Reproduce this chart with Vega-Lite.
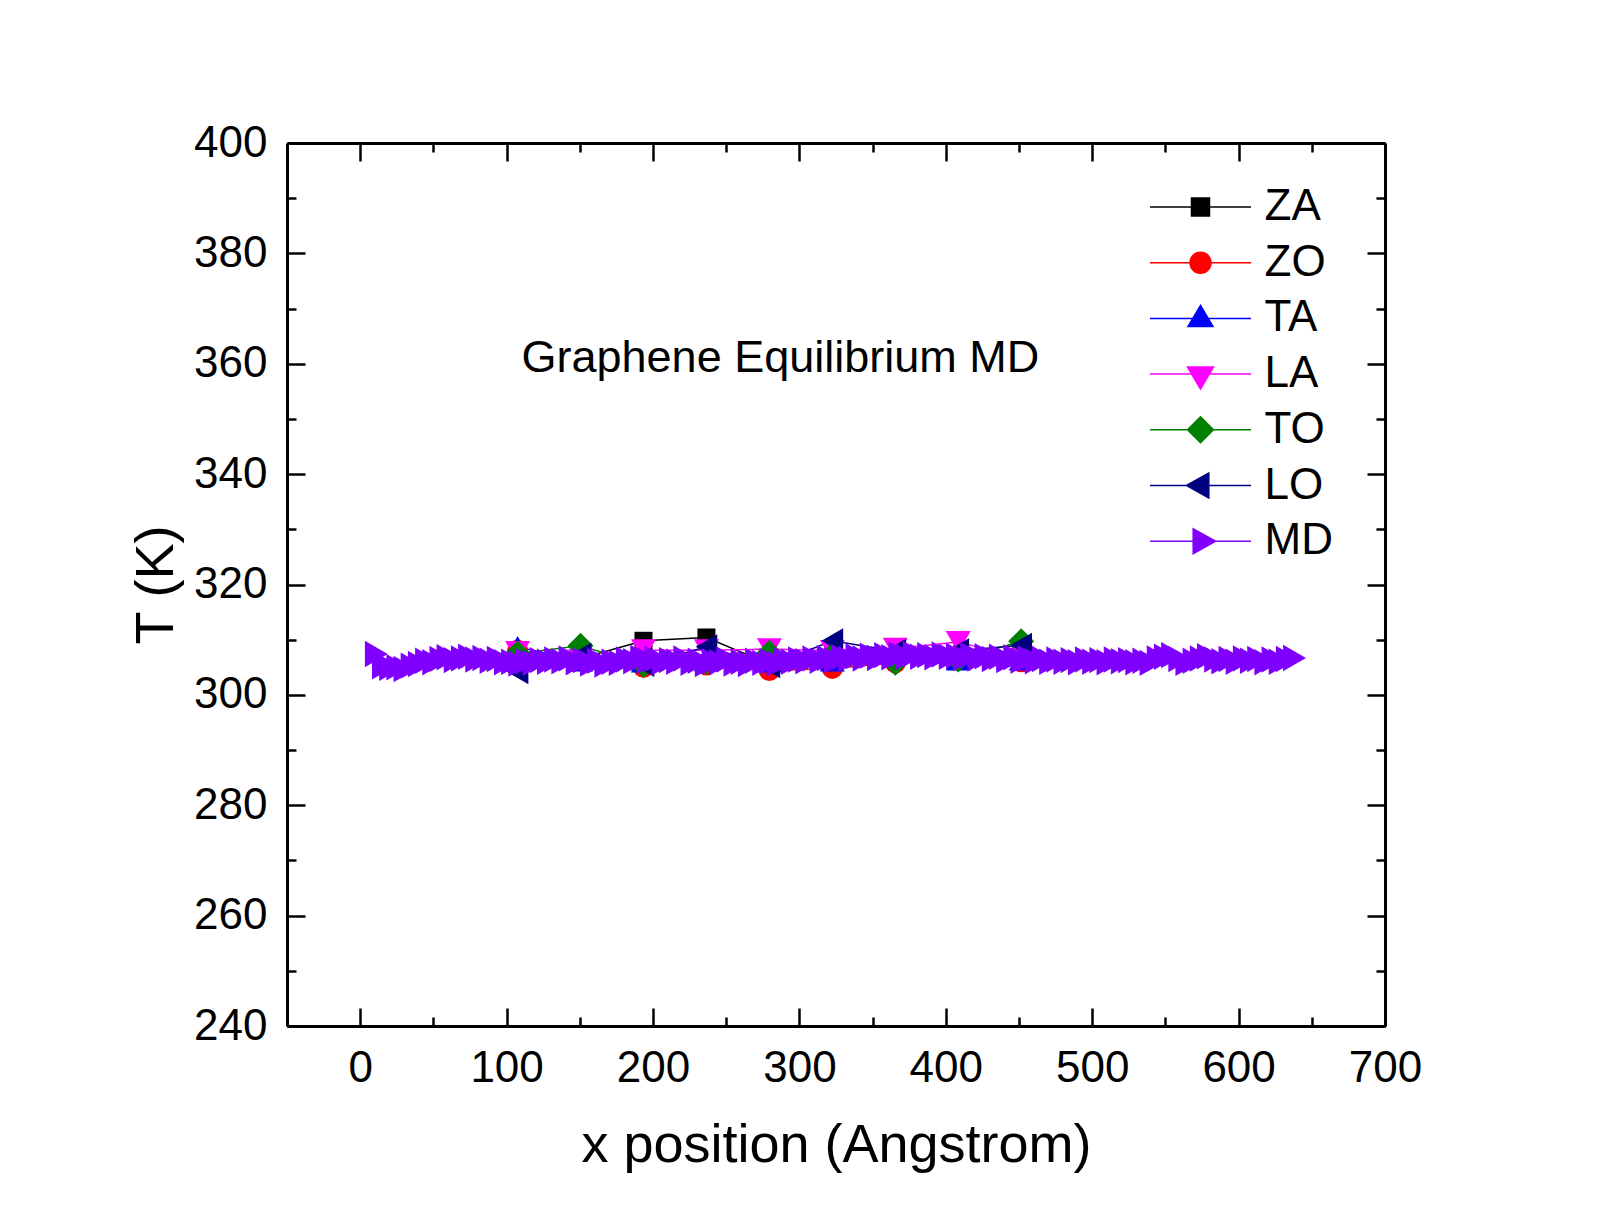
{
  "$schema": "https://vega.github.io/schema/vega-lite/v6.json",
  "width": 1098,
  "height": 883,
  "autosize": {"type": "none"},
  "padding": {"left": 287, "top": 143, "right": 224, "bottom": 206},
  "background": "white",
  "config": {
    "view": {"stroke": null},
    "font": "Liberation Sans",
    "axis": {
      "grid": false,
      "domainColor": "black",
      "domainWidth": 3,
      "tickColor": "black",
      "tickWidth": 2.5,
      "labelFont": "Liberation Sans",
      "labelFontSize": 44,
      "labelColor": "black",
      "labelFlush": false,
      "labelOverlap": false,
      "labelBound": false,
      "titleFont": "Liberation Sans",
      "titleFontSize": 54,
      "titleFontWeight": "normal",
      "titleColor": "black"
    },
    "legend": {"labelFont": "Liberation Sans", "labelFontSize": 44, "labelColor": "black", "labelLimit": 400, "padding": 0}
  },
  "datasets": {
    "temps": [
      {"series": "ZA", "x": 107.5, "T": 306.0}, {"series": "ZA", "x": 150.5, "T": 306.6}, {"series": "ZA", "x": 193.5, "T": 309.8},
      {"series": "ZA", "x": 236.5, "T": 310.4}, {"series": "ZA", "x": 279.5, "T": 305.6}, {"series": "ZA", "x": 322.5, "T": 306.2},
      {"series": "ZA", "x": 365.5, "T": 306.8}, {"series": "ZA", "x": 408.5, "T": 307.0}, {"series": "ZA", "x": 451.5, "T": 307.0},
      {"series": "ZO", "x": 107.5, "T": 308.1}, {"series": "ZO", "x": 150.5, "T": 306.2}, {"series": "ZO", "x": 193.5, "T": 305.0},
      {"series": "ZO", "x": 236.5, "T": 305.4}, {"series": "ZO", "x": 279.5, "T": 304.4}, {"series": "ZO", "x": 322.5, "T": 304.8},
      {"series": "ZO", "x": 365.5, "T": 305.8}, {"series": "ZO", "x": 408.5, "T": 306.3}, {"series": "ZO", "x": 451.5, "T": 306.0},
      {"series": "TA", "x": 107.5, "T": 308.7}, {"series": "TA", "x": 150.5, "T": 306.2}, {"series": "TA", "x": 193.5, "T": 306.0},
      {"series": "TA", "x": 236.5, "T": 306.2}, {"series": "TA", "x": 279.5, "T": 306.0}, {"series": "TA", "x": 322.5, "T": 306.2},
      {"series": "TA", "x": 365.5, "T": 307.9}, {"series": "TA", "x": 408.5, "T": 306.4}, {"series": "TA", "x": 451.5, "T": 306.4},
      {"series": "LA", "x": 107.5, "T": 307.8}, {"series": "LA", "x": 150.5, "T": 306.4}, {"series": "LA", "x": 193.5, "T": 308.1},
      {"series": "LA", "x": 236.5, "T": 308.1}, {"series": "LA", "x": 279.5, "T": 308.3}, {"series": "LA", "x": 322.5, "T": 308.0},
      {"series": "LA", "x": 365.5, "T": 308.4}, {"series": "LA", "x": 408.5, "T": 309.6}, {"series": "LA", "x": 451.5, "T": 306.6},
      {"series": "TO", "x": 107.5, "T": 307.5}, {"series": "TO", "x": 150.5, "T": 308.9}, {"series": "TO", "x": 193.5, "T": 305.4},
      {"series": "TO", "x": 236.5, "T": 306.0}, {"series": "TO", "x": 279.5, "T": 307.6}, {"series": "TO", "x": 322.5, "T": 307.2},
      {"series": "TO", "x": 365.5, "T": 305.8}, {"series": "TO", "x": 408.5, "T": 306.4}, {"series": "TO", "x": 451.5, "T": 309.7},
      {"series": "LO", "x": 107.5, "T": 304.2}, {"series": "LO", "x": 150.5, "T": 307.2}, {"series": "LO", "x": 193.5, "T": 305.5},
      {"series": "LO", "x": 236.5, "T": 308.7}, {"series": "LO", "x": 279.5, "T": 305.3}, {"series": "LO", "x": 322.5, "T": 309.8},
      {"series": "LO", "x": 365.5, "T": 307.9}, {"series": "LO", "x": 408.5, "T": 308.0}, {"series": "LO", "x": 451.5, "T": 309.0},
      {"series": "MD", "x": 11.0, "T": 307.4}, {"series": "MD", "x": 15.9, "T": 305.2}, {"series": "MD", "x": 20.8, "T": 304.9},
      {"series": "MD", "x": 25.7, "T": 305.0}, {"series": "MD", "x": 30.6, "T": 304.7}, {"series": "MD", "x": 35.5, "T": 305.3},
      {"series": "MD", "x": 40.4, "T": 305.6}, {"series": "MD", "x": 45.3, "T": 306.2}, {"series": "MD", "x": 50.2, "T": 305.9},
      {"series": "MD", "x": 55.1, "T": 306.5}, {"series": "MD", "x": 60.0, "T": 306.8}, {"series": "MD", "x": 64.9, "T": 306.3},
      {"series": "MD", "x": 69.8, "T": 306.6}, {"series": "MD", "x": 74.7, "T": 306.9}, {"series": "MD", "x": 79.6, "T": 306.4},
      {"series": "MD", "x": 84.5, "T": 306.7}, {"series": "MD", "x": 89.4, "T": 306.2}, {"series": "MD", "x": 94.3, "T": 306.5},
      {"series": "MD", "x": 99.2, "T": 305.9}, {"series": "MD", "x": 104.1, "T": 306.0}, {"series": "MD", "x": 109.0, "T": 305.7},
      {"series": "MD", "x": 113.9, "T": 306.1}, {"series": "MD", "x": 118.8, "T": 305.8}, {"series": "MD", "x": 123.7, "T": 306.3},
      {"series": "MD", "x": 128.6, "T": 306.0}, {"series": "MD", "x": 133.5, "T": 306.4}, {"series": "MD", "x": 138.4, "T": 306.1},
      {"series": "MD", "x": 143.3, "T": 306.6}, {"series": "MD", "x": 148.2, "T": 305.9}, {"series": "MD", "x": 153.1, "T": 306.3},
      {"series": "MD", "x": 158.0, "T": 305.7}, {"series": "MD", "x": 162.9, "T": 306.2}, {"series": "MD", "x": 167.8, "T": 305.5},
      {"series": "MD", "x": 172.7, "T": 306.0}, {"series": "MD", "x": 177.6, "T": 305.8}, {"series": "MD", "x": 182.5, "T": 306.4},
      {"series": "MD", "x": 187.4, "T": 306.1}, {"series": "MD", "x": 192.3, "T": 306.7}, {"series": "MD", "x": 197.2, "T": 306.2},
      {"series": "MD", "x": 202.1, "T": 306.5}, {"series": "MD", "x": 207.0, "T": 305.9}, {"series": "MD", "x": 211.9, "T": 306.3},
      {"series": "MD", "x": 216.8, "T": 306.0}, {"series": "MD", "x": 221.7, "T": 306.6}, {"series": "MD", "x": 226.6, "T": 305.8},
      {"series": "MD", "x": 231.5, "T": 306.2}, {"series": "MD", "x": 236.4, "T": 305.6}, {"series": "MD", "x": 241.3, "T": 306.1},
      {"series": "MD", "x": 246.2, "T": 305.9}, {"series": "MD", "x": 251.1, "T": 306.4}, {"series": "MD", "x": 256.0, "T": 305.7},
      {"series": "MD", "x": 260.9, "T": 306.0}, {"series": "MD", "x": 265.8, "T": 305.6}, {"series": "MD", "x": 270.7, "T": 306.2},
      {"series": "MD", "x": 275.6, "T": 305.8}, {"series": "MD", "x": 280.5, "T": 306.1}, {"series": "MD", "x": 285.4, "T": 305.7},
      {"series": "MD", "x": 290.3, "T": 306.3}, {"series": "MD", "x": 295.2, "T": 306.0}, {"series": "MD", "x": 300.1, "T": 306.4},
      {"series": "MD", "x": 305.0, "T": 306.1}, {"series": "MD", "x": 309.9, "T": 306.6}, {"series": "MD", "x": 314.8, "T": 306.2},
      {"series": "MD", "x": 319.7, "T": 306.7}, {"series": "MD", "x": 324.6, "T": 306.3}, {"series": "MD", "x": 329.5, "T": 306.8},
      {"series": "MD", "x": 334.4, "T": 306.5}, {"series": "MD", "x": 339.3, "T": 307.0}, {"series": "MD", "x": 344.2, "T": 306.6},
      {"series": "MD", "x": 349.1, "T": 307.1}, {"series": "MD", "x": 354.0, "T": 306.7}, {"series": "MD", "x": 358.9, "T": 307.2},
      {"series": "MD", "x": 363.8, "T": 306.8}, {"series": "MD", "x": 368.7, "T": 307.3}, {"series": "MD", "x": 373.6, "T": 306.9},
      {"series": "MD", "x": 378.5, "T": 307.4}, {"series": "MD", "x": 383.4, "T": 306.9}, {"series": "MD", "x": 388.3, "T": 307.2},
      {"series": "MD", "x": 393.2, "T": 306.8}, {"series": "MD", "x": 398.1, "T": 307.3}, {"series": "MD", "x": 403.0, "T": 306.9},
      {"series": "MD", "x": 407.9, "T": 307.1}, {"series": "MD", "x": 412.8, "T": 306.7}, {"series": "MD", "x": 417.7, "T": 307.2},
      {"series": "MD", "x": 422.6, "T": 306.6}, {"series": "MD", "x": 427.5, "T": 307.0}, {"series": "MD", "x": 432.4, "T": 306.5},
      {"series": "MD", "x": 437.3, "T": 306.9}, {"series": "MD", "x": 442.2, "T": 306.3}, {"series": "MD", "x": 447.1, "T": 306.8},
      {"series": "MD", "x": 452.0, "T": 306.2}, {"series": "MD", "x": 456.9, "T": 306.6}, {"series": "MD", "x": 461.8, "T": 306.1},
      {"series": "MD", "x": 466.7, "T": 306.5}, {"series": "MD", "x": 471.6, "T": 306.0}, {"series": "MD", "x": 476.5, "T": 306.4},
      {"series": "MD", "x": 481.4, "T": 306.0}, {"series": "MD", "x": 486.3, "T": 306.3}, {"series": "MD", "x": 491.2, "T": 305.9},
      {"series": "MD", "x": 496.1, "T": 306.4}, {"series": "MD", "x": 501.0, "T": 306.0}, {"series": "MD", "x": 505.9, "T": 306.3},
      {"series": "MD", "x": 510.8, "T": 305.9}, {"series": "MD", "x": 515.7, "T": 306.4}, {"series": "MD", "x": 520.6, "T": 306.1},
      {"series": "MD", "x": 525.5, "T": 306.3}, {"series": "MD", "x": 530.4, "T": 305.9}, {"series": "MD", "x": 535.3, "T": 306.2},
      {"series": "MD", "x": 540.2, "T": 305.8}, {"series": "MD", "x": 545.1, "T": 306.6}, {"series": "MD", "x": 550.0, "T": 306.9},
      {"series": "MD", "x": 554.9, "T": 307.2}, {"series": "MD", "x": 559.8, "T": 306.5}, {"series": "MD", "x": 564.7, "T": 305.8},
      {"series": "MD", "x": 569.6, "T": 306.2}, {"series": "MD", "x": 574.5, "T": 306.6}, {"series": "MD", "x": 579.4, "T": 307.0},
      {"series": "MD", "x": 584.3, "T": 306.4}, {"series": "MD", "x": 589.2, "T": 306.1}, {"series": "MD", "x": 594.1, "T": 306.5},
      {"series": "MD", "x": 599.0, "T": 306.0}, {"series": "MD", "x": 603.9, "T": 306.6}, {"series": "MD", "x": 608.8, "T": 306.2},
      {"series": "MD", "x": 613.7, "T": 306.5}, {"series": "MD", "x": 618.6, "T": 305.9}, {"series": "MD", "x": 623.5, "T": 306.4},
      {"series": "MD", "x": 628.4, "T": 306.0}, {"series": "MD", "x": 633.3, "T": 306.5}, {"series": "MD", "x": 638.2, "T": 306.7}
    ],
    "note": [{"x": 287, "T": 361, "label": "Graphene Equilibrium MD"}]
  },
  "layer": [
    {
      "data": {"name": "temps"},
      "mark": {"type": "line", "strokeWidth": 1.5},
      "encoding": {
        "x": {
          "field": "x", "type": "quantitative",
          "scale": {"domain": [-50, 700], "nice": false, "zero": false},
          "axis": {"orient": "bottom", "values": [0, 100, 200, 300, 400, 500, 600, 700], "tickSize": -18, "labelPadding": 38, "title": "x position (Angstrom)", "titlePadding": 28}
        },
        "y": {
          "field": "T", "type": "quantitative",
          "scale": {"domain": [240, 400], "nice": false, "zero": false},
          "axis": {"orient": "left", "values": [240, 260, 280, 300, 320, 340, 360, 380, 400], "tickSize": -18, "labelPadding": 38, "title": "T (K)", "titlePadding": 10}
        },
        "color": {
          "field": "series", "type": "nominal",
          "scale": {"domain": ["ZA", "ZO", "TA", "LA", "TO", "LO", "MD"], "range": ["#000000", "#FF0000", "#0000FF", "#FF00FF", "#008000", "#000080", "#8000FF"]},
          "legend": null
        }
      }
    },
    {
      "data": {"name": "temps"},
      "mark": {"type": "point", "filled": true, "opacity": 1},
      "encoding": {
        "x": {
          "field": "x", "type": "quantitative",
          "scale": {"domain": [-50, 700], "nice": false, "zero": false},
          "axis": {"orient": "top", "values": [0, 100, 200, 300, 400, 500, 600, 700], "tickSize": -18, "labels": false, "title": null}
        },
        "y": {
          "field": "T", "type": "quantitative",
          "scale": {"domain": [240, 400], "nice": false, "zero": false},
          "axis": {"orient": "right", "values": [240, 260, 280, 300, 320, 340, 360, 380, 400], "tickSize": -18, "labels": false, "title": null}
        },
        "color": {
          "field": "series", "type": "nominal",
          "scale": {"domain": ["ZA", "ZO", "TA", "LA", "TO", "LO", "MD"], "range": ["#000000", "#FF0000", "#0000FF", "#FF00FF", "#008000", "#000080", "#8000FF"]},
          "legend": null
        },
        "shape": {
          "field": "series", "type": "nominal",
          "scale": {"domain": ["ZA", "ZO", "TA", "LA", "TO", "LO", "MD"], "range": ["square", "circle", "triangle-up", "triangle-down", "diamond", "triangle-left", "triangle-right"]},
          "legend": null
        },
        "size": {
          "condition": [
            {"test": "datum.series === 'ZA'", "value": 324},
            {"test": "datum.series === 'ZO'", "value": 441},
            {"test": "datum.series === 'TO'", "value": 676},
            {"test": "datum.series === 'MD'", "value": 700}
          ],
          "value": 625
        }
      }
    },
    {
      "data": {"name": "temps"},
      "transform": [{"filter": "datum.T < 0"}],
      "mark": {"type": "point", "filled": true, "opacity": 1, "size": 676, "strokeWidth": 1.5},
      "encoding": {
        "x": {
          "field": "x", "type": "quantitative",
          "scale": {"domain": [-50, 700], "nice": false, "zero": false},
          "axis": {"orient": "bottom", "values": [50, 150, 250, 350, 450, 550, 650], "tickSize": -9, "labels": false, "domain": false, "title": null}
        },
        "y": {
          "field": "T", "type": "quantitative",
          "scale": {"domain": [240, 400], "nice": false, "zero": false},
          "axis": {"orient": "left", "values": [250, 270, 290, 310, 330, 350, 370, 390], "tickSize": -9, "labels": false, "domain": false, "title": null}
        },
        "fill": {
          "field": "series", "type": "nominal",
          "scale": {"domain": ["ZA", "ZO", "TA", "LA", "TO", "LO", "MD"], "range": ["#000000", "#FF0000", "#0000FF", "#FF00FF", "#008000", "#000080", "#8000FF"]},
          "legend": {"title": null, "orient": "none", "legendX": 891.5, "legendY": 42, "symbolSize": 676, "labelOffset": 42, "rowPadding": 11.7, "symbolStrokeWidth": 1.5}
        },
        "stroke": {
          "field": "series", "type": "nominal",
          "scale": {"domain": ["ZA", "ZO", "TA", "LA", "TO", "LO", "MD"], "range": ["#000000", "#FF0000", "#0000FF", "#FF00FF", "#008000", "#000080", "#8000FF"]},
          "legend": {"title": null, "orient": "none", "legendX": 891.5, "legendY": 42, "symbolSize": 676, "labelOffset": 42, "rowPadding": 11.7, "symbolStrokeWidth": 1.5}
        },
        "shape": {
          "field": "series", "type": "nominal",
          "scale": {
            "domain": ["ZA", "ZO", "TA", "LA", "TO", "LO", "MD"],
            "range": [
              "M-3.885,0H3.885M-0.692,-0.692H0.692V0.692H-0.692Z",
              "M-3.885,0H3.885M-0.808,0A0.808,0.808,0,1,0,0.808,0A0.808,0.808,0,1,0,-0.808,0Z",
              "M-3.885,0H3.885M0,-1L0.962,0.615L-0.962,0.615Z",
              "M-3.885,0H3.885M-1,-0.538L1,-0.538L0,1.154Z",
              "M-3.885,0H3.885M0,-1L1,0L0,1L-1,0Z",
              "M-3.885,0H3.885M-1.077,0L0.638,-0.962L0.638,0.962Z",
              "M-3.885,0H3.885M1.154,0L-0.562,-0.962L-0.562,0.962Z"
            ]
          },
          "legend": {"title": null, "orient": "none", "legendX": 891.5, "legendY": 42, "symbolSize": 676, "labelOffset": 42, "rowPadding": 11.7, "symbolStrokeWidth": 1.5}
        }
      }
    },
    {
      "data": {"name": "note"},
      "mark": {"type": "text", "font": "Liberation Sans", "fontSize": 45, "color": "black", "align": "center", "baseline": "middle"},
      "encoding": {
        "x": {
          "field": "x", "type": "quantitative",
          "scale": {"domain": [-50, 700], "nice": false, "zero": false},
          "axis": {"orient": "top", "values": [50, 150, 250, 350, 450, 550, 650], "tickSize": -9, "labels": false, "domain": false, "title": null}
        },
        "y": {
          "field": "T", "type": "quantitative",
          "scale": {"domain": [240, 400], "nice": false, "zero": false},
          "axis": {"orient": "right", "values": [250, 270, 290, 310, 330, 350, 370, 390], "tickSize": -9, "labels": false, "domain": false, "title": null}
        },
        "text": {"field": "label"}
      }
    }
  ],
  "resolve": {
    "scale": {"shape": "independent", "fill": "independent", "stroke": "independent"},
    "legend": {"shape": "independent", "fill": "independent", "stroke": "independent"},
    "axis": {"x": "independent", "y": "independent"}
  }
}
